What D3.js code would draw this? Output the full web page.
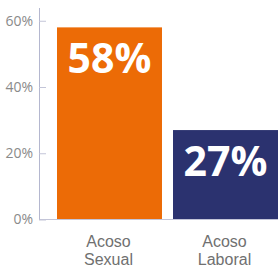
<!DOCTYPE html>
<html>
<head>
<meta charset="utf-8">
<script src="https://cdn.jsdelivr.net/npm/d3@7"></script>
<style>
  body { margin: 0; background: #fff; }
  svg { display: block; }
</style>
</head>
<body>
<div id="chart"></div>
<script>
(function(){

var categories = [["Acoso", "Sexual"], ["Acoso", "Laboral"]];
var values = [58, 27];
var colors = ["#ec6b06", "#2b326f"];
var yTicks = [0, 20, 40, 60];

var width = 278, height = 269;

var svg = d3.select("#chart")
  .append("svg")
    .attr("width", width)
    .attr("height", height);

var x = d3.scaleBand()
    .domain(d3.range(values.length))
    .range([57, 278])
    .paddingInner(0.095)
    .paddingOuter(0);

var y = d3.scaleLinear()
    .domain([0, 64])
    .range([219.5, 7.5]);

// bars
svg.selectAll("rect.bar")
    .data(values)
    .enter()
    .append("rect")
      .attr("class", "bar")
      .attr("x", function(d, i) { return x(i); })
      .attr("y", function(d) { return y(d); })
      .attr("width", x.bandwidth())
      .attr("height", function(d) { return y(0) - y(d); })
      .style("fill", function(d, i) { return colors[i]; });

// value labels inside the bars
svg.selectAll("text.val")
    .data(values)
    .enter()
    .append("text")
      .attr("class", "val")
      .attr("x", function(d, i) { return x(i) + x.bandwidth() / 2; })
      .attr("y", function(d) { return y(d) + 46; })
      .attr("text-anchor", "middle")
      .style("font-family", "'Open Sans', sans-serif")
      .style("font-weight", "bold")
      .style("font-size", "41px")
      .style("fill", "#fff")
      .text(function(d) { return d + "%"; });

// bottom baseline
svg.append("line")
    .attr("x1", 39).attr("x2", width)
    .attr("y1", y(0)).attr("y2", y(0))
    .style("stroke", "#c3c5d8")
    .style("stroke-width", 1);

// y axis
var yAxis = svg.append("g")
    .attr("transform", "translate(39,0)")
    .call(d3.axisLeft(y)
      .tickValues(yTicks)
      .tickFormat(function(d) { return d + "%"; })
      .tickSizeInner(-7)
      .tickSizeOuter(0)
      .tickPadding(6));

yAxis.select(".domain").style("stroke", "#b4b7cf");
yAxis.selectAll(".tick line").style("stroke", "#c3c5d8");
yAxis.selectAll(".tick text")
    .style("font-family", "'Open Sans', sans-serif")
    .style("font-size", "14px")
    .style("fill", "#8a8a8a");

// category labels
var cat = svg.selectAll("text.cat")
    .data(categories)
    .enter()
    .append("text")
      .attr("class", "cat")
      .attr("text-anchor", "middle")
      .style("font-family", "'Liberation Sans Narrow', sans-serif")
      .style("font-size", "16px")
      .style("fill", "#707070");

cat.selectAll("tspan")
    .data(function(d, i) { return d.map(function(t) { return {t: t, i: i}; }); })
    .enter()
    .append("tspan")
      .attr("x", function(d) { return x(d.i) + x.bandwidth() / 2 - 1; })
      .attr("y", function(d, j) { return 247 + j * 18; })
      .text(function(d) { return d.t; });

})();
</script>
</body>
</html>
